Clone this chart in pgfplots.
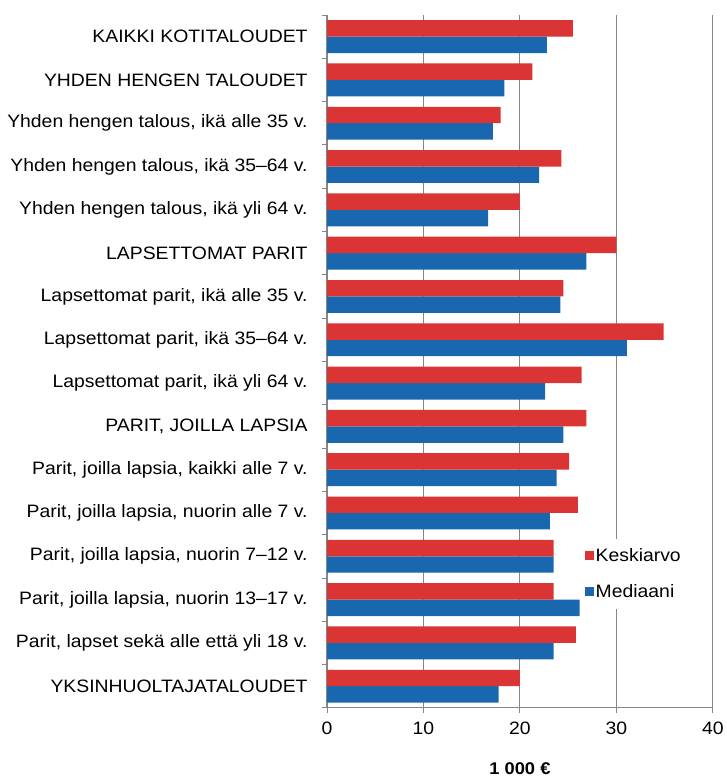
\documentclass[border=0pt]{standalone}
\usepackage{pgfplots}
\pgfplotsset{compat=1.18}
\usepackage{fontspec}
\setmainfont{Liberation Sans}[FakeStretch=1.08]
\usetikzlibrary{calc}

\definecolor{kred}{RGB}{218,52,52}
\definecolor{kblue}{RGB}{25,104,175}
\definecolor{axgray}{RGB}{134,134,134}

\begin{document}
\begin{tikzpicture}
  \begin{axis}[
    name=ax,
    scale only axis,
    width=387pt, height=695pt,
    xbar=0pt,
    bar width=16.5pt,
    xmin=0, xmax=40,
    ymin=-0.5, ymax=15.5,
    y dir=reverse,
    axis lines*=left,
    axis line style={-, axgray, line width=0.9pt},
    xtick={0,10,20,30,40},
    xmajorgrids,
    grid style={axgray, line width=1.1pt},
    tick align=outside,
    major tick length=5pt,
    tick style={axgray, line width=0.9pt},
    ytick={0,...,15},
    yticklabels={
      KAIKKI KOTITALOUDET,
      YHDEN HENGEN TALOUDET,
      {Yhden hengen talous, ikä alle 35 v.},
      {Yhden hengen talous, ikä 35--64 v.},
      {Yhden hengen talous, ikä yli 64 v.},
      LAPSETTOMAT PARIT,
      {Lapsettomat parit, ikä alle 35 v.},
      {Lapsettomat parit, ikä 35--64 v.},
      {Lapsettomat parit, ikä yli 64 v.},
      {PARIT, JOILLA LAPSIA},
      {Parit, joilla lapsia, kaikki alle 7 v.},
      {Parit, joilla lapsia, nuorin alle 7 v.},
      {Parit, joilla lapsia, nuorin 7--12 v.},
      {Parit, joilla lapsia, nuorin 13--17 v.},
      {Parit, lapset sekä alle että yli 18 v.},
      YKSINHUOLTAJATALOUDET},
    ytick style={draw=none},
    extra y ticks={-0.5,0.5,...,15.5},
    extra y tick labels={},
    extra y tick style={ytick style={draw=axgray}},
    tick label style={font=\fontsize{18}{20}\selectfont},
    /pgf/number format/assume math mode=true,
    yticklabel style={xshift=-11pt},
    xticklabel style={yshift=-6pt},
    xlabel={\textbf{1 000 €}},
    xlabel style={font=\fontsize{17}{19}\selectfont, at={(axis description cs:0.5,0)}, anchor=center, yshift=-61pt},
    legend cell align=left,
    reverse legend,
    legend style={at={(axis cs:31.8,12.4)}, anchor=center, draw=none, fill=white,
      font=\fontsize{18}{20}\selectfont, row sep=17pt, inner xsep=1pt, inner ysep=8pt},
    legend image code/.code={\fill[#1] (0pt,-4.5pt) rectangle (9pt,4.5pt);},
  ]
    % Mediaani
    \addplot[fill=kblue, draw=none] coordinates {
      (22.8,0) (18.4,1) (17.2,2) (22.0,3) (16.7,4) (26.9,5) (24.2,6) (31.1,7)
      (22.6,8) (24.5,9) (23.8,10) (23.1,11) (23.5,12) (26.2,13) (23.5,14) (17.8,15)
    };
    \addlegendentry{Mediaani}
    % Keskiarvo
    \addplot[fill=kred, draw=none] coordinates {
      (25.5,0) (21.3,1) (18.0,2) (24.3,3) (20.0,4) (30.0,5) (24.5,6) (34.9,7)
      (26.4,8) (26.9,9) (25.1,10) (26.0,11) (23.5,12) (23.5,13) (25.8,14) (20.0,15)
    };
    \addlegendentry{Keskiarvo}
  \end{axis}
  \path ($(ax.south west)+(-328pt,-68pt)$);
  \path ($(ax.north east)+(14pt,15pt)$);
\end{tikzpicture}
\end{document}
